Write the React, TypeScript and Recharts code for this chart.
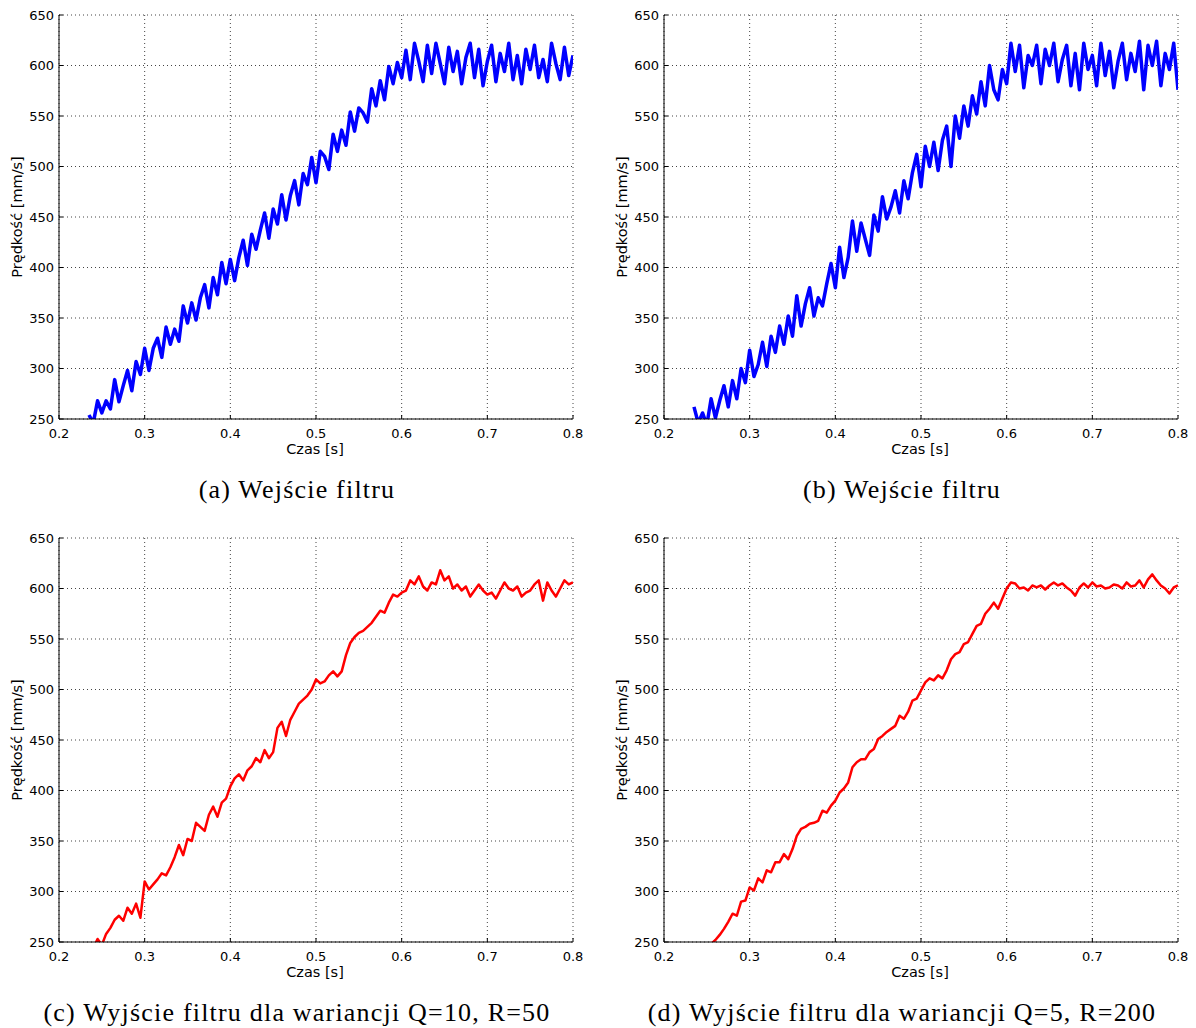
import { LineChart, Line, XAxis, YAxis, CartesianGrid } from "recharts"

// czas próbek [ms]
const timeMs = [
  235, 240, 245, 250, 255, 260, 265, 270, 275, 280,
  285, 290, 295, 300, 305, 310, 315, 320, 325, 330,
  335, 340, 345, 350, 355, 360, 365, 370, 375, 380,
  385, 390, 395, 400, 405, 410, 415, 420, 425, 430,
  435, 440, 445, 450, 455, 460, 465, 470, 475, 480,
  485, 490, 495, 500, 505, 510, 515, 520, 525, 530,
  535, 540, 545, 550, 555, 560, 565, 570, 575, 580,
  585, 590, 595, 600, 605, 610, 615, 620, 625, 630,
  635, 640, 645, 650, 655, 660, 665, 670, 675, 680,
  685, 690, 695, 700, 705, 710, 715, 720, 725, 730,
  735, 740, 745, 750, 755, 760, 765, 770, 775, 780,
  785, 790, 795, 800,
]

// (a) wejście filtru
const inputA = [
  254, 246, 268, 256, 268, 260, 289, 267, 283, 298,
  278, 307, 294, 320, 298, 320, 330, 311, 341, 324,
  339, 327, 362, 345, 365, 348, 370, 383, 360, 390,
  373, 405, 384, 408, 387, 410, 427, 402, 433, 418,
  437, 454, 429, 458, 443, 472, 447, 471, 486, 462,
  493, 482, 509, 484, 515, 510, 497, 532, 515, 536,
  521, 554, 535, 558, 553, 544, 577, 560, 585, 566,
  599, 582, 603, 588, 615, 586, 622, 604, 584, 620,
  592, 622, 602, 582, 618, 594, 614, 582, 608, 622,
  588, 616, 580, 604, 620, 584, 612, 594, 622, 586,
  610, 582, 616, 596, 620, 588, 606, 584, 622, 602,
  586, 618, 590, 610,
]

// (b) wejście filtru
const inputB = [
  262, 246, 256, 244, 270, 251, 268, 283, 262, 288,
  270, 300, 286, 318, 292, 304, 326, 302, 332, 316,
  342, 324, 352, 332, 372, 342, 364, 380, 352, 370,
  362, 384, 404, 380, 420, 390, 410, 446, 416, 444,
  428, 412, 452, 436, 470, 448, 460, 476, 454, 486,
  468, 494, 512, 480, 520, 500, 524, 496, 526, 540,
  500, 550, 528, 560, 540, 570, 552, 584, 560, 600,
  576, 566, 596, 582, 622, 594, 620, 578, 610, 600,
  620, 582, 616, 600, 622, 584, 606, 620, 580, 612,
  576, 622, 596, 610, 580, 622, 590, 614, 578, 604,
  622, 586, 612, 594, 624, 576, 620, 600, 624, 580,
  612, 596, 622, 576,
]

// (c) wyjście filtru Q=10, R=50
const outputC = [
  240, 244, 253, 247, 258, 264, 272, 276, 271, 284,
  278, 288, 274, 310, 302, 307, 312, 318, 316, 324,
  334, 346, 336, 352, 350, 368, 364, 360, 376, 384,
  374, 388, 392, 404, 412, 416, 410, 420, 424, 432,
  428, 440, 432, 438, 462, 468, 454, 470, 478, 486,
  490, 494, 500, 510, 506, 508, 514, 518, 513, 518,
  534, 546, 552, 556, 558, 562, 566, 572, 578, 576,
  586, 594, 592, 596, 598, 608, 604, 612, 602, 598,
  606, 604, 618, 608, 612, 600, 604, 598, 602, 592,
  598, 604, 598, 594, 596, 590, 598, 606, 600, 598,
  602, 592, 596, 598, 604, 608, 588, 606, 598, 592,
  600, 608, 604, 606,
]

// (d) wyjście filtru Q=5, R=200
const outputD = [
  232, 236, 240, 244, 248, 252, 257, 263, 270, 278,
  276, 290, 291, 304, 301, 313, 309, 321, 319, 329,
  329, 337, 332, 342, 355, 362, 364, 367, 368, 370,
  380, 378, 385, 390, 398, 402, 408, 423, 428, 431,
  431, 438, 441, 451, 454, 458, 461, 464, 474, 471,
  478, 489, 491, 499, 507, 511, 509, 514, 511, 519,
  530, 535, 537, 545, 547, 555, 563, 565, 575, 580,
  586, 580, 590, 600, 606, 605, 600, 601, 598, 603,
  601, 603, 599, 603, 606, 603, 605, 601, 598, 593,
  601, 605, 601, 606, 602, 603, 600, 601, 604, 603,
  600, 606, 602, 603, 608, 601, 609, 614, 608, 603,
  600, 595, 601, 603,
]

const xTicks = [0.2, 0.3, 0.4, 0.5, 0.6, 0.7, 0.8]
const yTicks = [250, 300, 350, 400, 450, 500, 550, 600, 650]

const xLabel = "Czas [s]"
const yLabel = "Prędkość [mm/s]"
const captions = [
  "(a) Wejście filtru",
  "(b) Wejście filtru",
  "(c) Wyjście filtru dla wariancji Q=10, R=50",
  "(d) Wyjście filtru dla wariancji Q=5, R=200",
]

const sans = "'DejaVu Sans', sans-serif"
const tickStyle = { fill: "#000", fontSize: 13, fontFamily: sans }

type PanelProps = {
  left: number
  top: number
  values: number[]
  color: string
  strokeWidth: number
  caption: string
}

function Panel({ left, top, values, color, strokeWidth, caption }: PanelProps) {
  const data = timeMs.map((ms, i) => ({ t: ms / 1000, v: values[i] }))

  return (
    <div style={{ position: "absolute", left, top, width: 600, height: 520 }}>
      <LineChart width={600} height={470} data={data} margin={{ top: 15, right: 27, bottom: 21, left: 9 }}>
        <CartesianGrid stroke="#444" strokeDasharray="1 3" />
        <XAxis
          dataKey="t"
          type="number"
          domain={[0.2, 0.8]}
          ticks={xTicks}
          interval={0}
          allowDataOverflow
          tickFormatter={(v: number) => v.toFixed(1)}
          height={30}
          tickSize={-4}
          tickMargin={14}
          stroke="#000"
          tick={tickStyle}
        />
        <XAxis
          xAxisId="top"
          orientation="top"
          dataKey="t"
          type="number"
          domain={[0.2, 0.8]}
          ticks={xTicks}
          interval={0}
          allowDataOverflow
          height={0}
          tickSize={-4}
          stroke="#000"
          tick={false}
        />
        <YAxis
          type="number"
          domain={[250, 650]}
          ticks={yTicks}
          interval={0}
          allowDataOverflow
          width={50}
          tickSize={-4}
          tickMargin={9}
          stroke="#000"
          tick={tickStyle}
        />
        <YAxis
          yAxisId="right"
          orientation="right"
          type="number"
          domain={[250, 650]}
          ticks={yTicks}
          interval={0}
          allowDataOverflow
          width={0}
          tickSize={-4}
          stroke="#000"
          tick={false}
        />
        <Line
          type="linear"
          dataKey="v"
          stroke={color}
          strokeWidth={strokeWidth}
          strokeLinejoin="round"
          dot={false}
          isAnimationActive={false}
        />
      </LineChart>
      <div
        style={{
          position: "absolute",
          left: 315,
          top: 449,
          transform: "translate(-50%, -50%)",
          fontFamily: sans,
          fontSize: 14.5,
          whiteSpace: "nowrap",
        }}
      >
        {xLabel}
      </div>
      <div
        style={{
          position: "absolute",
          left: 17,
          top: 217,
          transform: "translate(-50%, -50%) rotate(-90deg)",
          fontFamily: sans,
          fontSize: 14.5,
          whiteSpace: "nowrap",
        }}
      >
        {yLabel}
      </div>
      <div
        style={{
          position: "absolute",
          left: 297,
          top: 490,
          transform: "translate(-50%, -50%)",
          fontFamily: "'Liberation Serif', serif",
          fontSize: 26,
          letterSpacing: 1.2,
          whiteSpace: "nowrap",
        }}
      >
        {caption}
      </div>
    </div>
  )
}

export default function App() {
  return (
    <div style={{ position: "absolute", left: 0, top: 0, width: 1196, height: 1028, background: "#fff" }}>
      <Panel left={0} top={0} values={inputA} color="#0000ff" strokeWidth={3.5} caption={captions[0]} />
      <Panel left={605} top={0} values={inputB} color="#0000ff" strokeWidth={3.5} caption={captions[1]} />
      <Panel left={0} top={523} values={outputC} color="#ff0000" strokeWidth={2.5} caption={captions[2]} />
      <Panel left={605} top={523} values={outputD} color="#ff0000" strokeWidth={2.5} caption={captions[3]} />
    </div>
  )
}
